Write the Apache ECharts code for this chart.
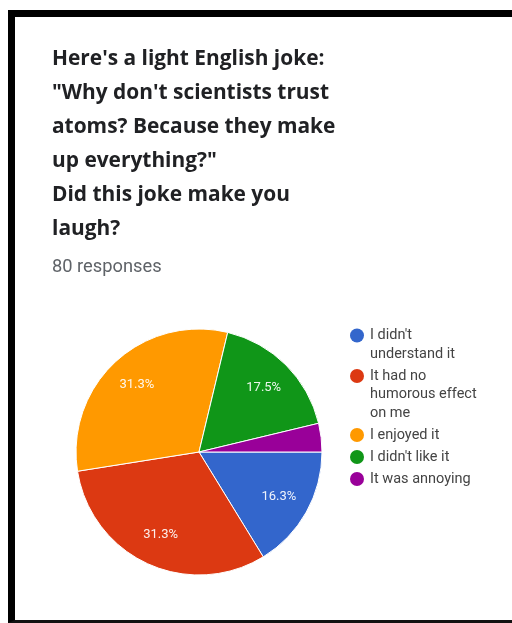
<!DOCTYPE html>
<html>
<head>
<meta charset="utf-8">
<script src="https://cdn.jsdelivr.net/npm/echarts@6/dist/echarts.min.js"></script>
<style>
  html, body { margin: 0; padding: 0; background: #fff; }
  #chart { position: absolute; left: 0; top: 0; width: 512px; height: 623px; }
  #frame {
    position: absolute; left: 8px; top: 10px; width: 497px; height: 603px;
    border-top: 7px solid #000; border-left: 7px solid #000; border-bottom: 3px solid #111;
    pointer-events: none;
  }
</style>
</head>
<body>
<div id="chart"></div>
<div id="frame"></div>
<script>
// Survey answers and response counts (80 responses in total)
const categories = [
  "I didn't understand it",
  "It had no humorous effect on me",
  "I enjoyed it",
  "I didn't like it",
  "It was annoying"
];
const counts = [13, 25, 25, 14, 3];
const colors = ['#3366cc', '#dc3912', '#ff9900', '#109618', '#990099'];
// Legend text, wrapped the way the answers appear beside the pie
const legendLines = [
  ["I didn't", "understand it"],
  ["It had no", "humorous effect", "on me"],
  ["I enjoyed it"],
  ["I didn't like it"],
  ["It was annoying"]
];
const titleText = "Here's a light English joke:\n\"Why don't scientists trust\natoms? Because they make\nup everything?\"\nDid this joke make you\nlaugh?";
const subtitleText = "80 responses";

const total = counts.reduce((a, b) => a + b, 0);
const pieData = categories.map((name, i) => ({ name, value: counts[i] }));

const rich = {
  pad: { width: 14, height: 14, lineHeight: 18.5 },
  t: { fontSize: 14.5, color: '#444', lineHeight: 18.5, padding: [0, 0, 0, 6], fontFamily: 'Roboto' }
};
colors.forEach((c, i) => {
  rich['d' + i] = { width: 14, height: 14, borderRadius: 7, backgroundColor: c, lineHeight: 18.5 };
});

const chart = echarts.init(document.getElementById('chart'), null, { renderer: 'canvas' });
chart.setOption({
  animation: false,
  color: colors,
  title: [
    {
      text: titleText,
      left: 52, top: 42, padding: 0,
      textStyle: { fontFamily: 'Open Sans', fontSize: 20.9, fontWeight: 'bold', color: '#202124', lineHeight: 34 }
    },
    {
      text: subtitleText,
      left: 52, top: 258, padding: 0,
      textStyle: { fontFamily: 'Roboto', fontSize: 18.3, fontWeight: 'normal', color: '#5f6368' }
    }
  ],
  legend: {
    orient: 'vertical',
    left: 344, top: 328, padding: 0,
    itemWidth: 0, itemHeight: 0, itemGap: 7,
    data: categories,
    selectedMode: false,
    formatter: name => {
      const i = categories.indexOf(name);
      return legendLines[i].map((l, k) => (k === 0 ? '{d' + i + '|}' : '{pad|}') + '{t|' + l + '}').join('\n');
    },
    textStyle: { rich }
  },
  series: [
    {
      type: 'pie',
      center: [199, 452],
      radius: 123,
      startAngle: 0,
      clockwise: true,
      data: pieData,
      label: { show: false },
      labelLine: { show: false },
      itemStyle: { borderColor: '#fff', borderWidth: 1 },
      emphasis: { disabled: true }
    },
    {
      // transparent ring that only carries the percentage labels
      type: 'pie',
      center: [199, 452],
      radius: [54, 123],
      startAngle: 0,
      clockwise: true,
      silent: true,
      avoidLabelOverlap: false,
      data: pieData,
      itemStyle: { color: 'rgba(0,0,0,0)', borderWidth: 0 },
      label: {
        show: true,
        position: 'inside',
        fontFamily: 'Roboto',
        fontSize: 13,
        color: 'rgba(255,255,255,0.92)',
        formatter: p => {
          const pct = p.value / total * 100;
          return pct < 5 ? '' : pct.toFixed(1) + '%';
        }
      },
      labelLine: { show: false },
      emphasis: { disabled: true }
    }
  ]
});
</script>
</body>
</html>
